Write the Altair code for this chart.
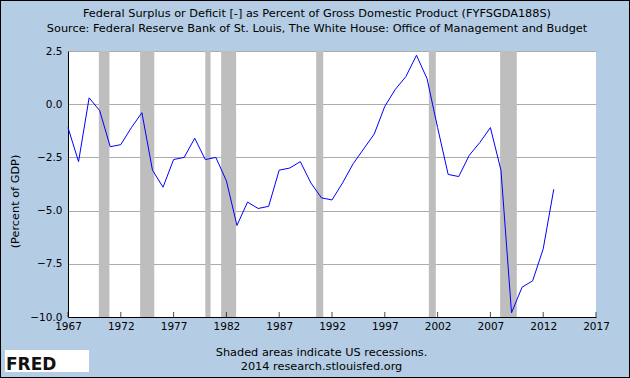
import altair as alt
import pandas as pd

years = list(range(1967, 2014))
values = [-1.1, -2.7, 0.3, -0.3, -2.0, -1.9, -1.1, -0.4, -3.1, -3.9,
          -2.6, -2.5, -1.6, -2.6, -2.5, -3.6, -5.7, -4.6, -4.9, -4.8,
          -3.1, -3.0, -2.7, -3.7, -4.4, -4.5, -3.7, -2.8, -2.1, -1.4,
          -0.1, 0.7, 1.3, 2.3, 1.2, -1.1, -3.3, -3.4, -2.4, -1.8,
          -1.1, -3.1, -9.8, -8.6, -8.3, -6.8, -4.0]

rec_start = [1969.92, 1973.83, 1980.0, 1981.5, 1990.5, 2001.17, 2007.92]
rec_end = [1970.92, 1975.17, 1980.5, 1982.92, 1991.17, 2001.83, 2009.5]

x_ticks = list(range(1967, 2018, 5))
y_ticks = [-10.0, -7.5, -5.0, -2.5, 0.0, 2.5]

title_lines = ["Federal Surplus or Deficit [-] as Percent of Gross Domestic Product (FYFSGDA188S)",
               "Source: Federal Reserve Bank of St. Louis, The White House: Office of Management and Budget"]
note_lines = ["Shaded areas indicate US recessions.", "2014 research.stlouisfed.org"]

df = pd.DataFrame({"year": years, "value": values})
rec = pd.DataFrame({"start": rec_start, "end": rec_end})
ticks = pd.DataFrame({"year": x_ticks, "y": [-10.0] * len(x_ticks)})

FONT = "DejaVu Sans"
BG = "#B4CDE4"
TS = 11.3

xscale = alt.Scale(domain=[1967, 2017], nice=False, zero=False)
yscale = alt.Scale(domain=[-10, 2.5], nice=False, zero=False)

xaxis = alt.Axis(values=x_ticks, format="d", title=note_lines, grid=False,
                 tickSize=0, labelPadding=4, labelFontSize=10.5, labelFont=FONT,
                 labelColor="black", domainColor="black", labelFlush=False,
                 titleFont=FONT, titleFontSize=TS, titleFontWeight="normal",
                 titleColor="black", titleLineHeight=14, titleX=253, titleY=35,
                 titleBaseline="middle", titleAnchor="start", titleAlign="center")
yaxis = alt.Axis(values=y_ticks, format=".1f", title="(Percent of GDP)",
                 grid=True, gridColor="#ABABAB", gridWidth=1, tickSize=0,
                 labelPadding=6, labelFontSize=10.5, labelFont=FONT, labelColor="black",
                 domainColor="black", titleFont=FONT, titleFontSize=TS,
                 titleFontWeight="normal", titleColor="black", titleAngle=270,
                 titleX=-53, titleY=150, titleBaseline="middle", titleAlign="center")

bands = alt.Chart(rec).mark_rect(color="#BEBEBE").encode(
    x=alt.X("start:Q", scale=xscale, axis=xaxis),
    x2="end:Q",
    y=alt.datum(2.5, scale=yscale, axis=yaxis),
    y2=alt.datum(-10),
)

line = alt.Chart(df).mark_line(color="#0000FF", strokeWidth=1).encode(
    x=alt.X("year:Q", scale=xscale),
    y=alt.Y("value:Q", scale=yscale),
)

tick_marks = alt.Chart(ticks).mark_tick(color="black", orient="vertical", size=5,
                                        thickness=1, yOffset=-2.5).encode(
    x=alt.X("year:Q", scale=xscale),
    y=alt.Y("y:Q", scale=yscale),
)

logo_box = alt.Chart(pd.DataFrame({"k": [0]})).mark_rect(color="white").encode(
    x=alt.value(-63), x2=alt.value(21), y=alt.value(299), y2=alt.value(321))
logo_text = alt.Chart(pd.DataFrame({"t": ["FRED"]})).mark_text(
    font=FONT, fontSize=17, fontWeight="bold", color="#111111", align="left",
    baseline="alphabetic").encode(x=alt.value(-62), y=alt.value(319), text="t:N")

chart = alt.layer(bands, line, tick_marks, logo_box, logo_text).properties(
    width=528, height=266,
    autosize=alt.AutoSizeParams(type="none"),
    padding={"left": 68, "top": 51, "right": 34, "bottom": 61},
    background=BG,
    title=alt.TitleParams(text=title_lines, font=FONT, fontSize=TS,
                          fontWeight="normal", color="black", lineHeight=15,
                          anchor="middle", dx=-15, offset=12),
).configure_view(stroke=None, fill="white")

chart.save("out.html", embed_options={"renderer": "svg", "actions": False,
           "defaultStyle": "body{margin:0;background:#B4CDE4} svg{outline:1px solid #000;outline-offset:-1px}"})
